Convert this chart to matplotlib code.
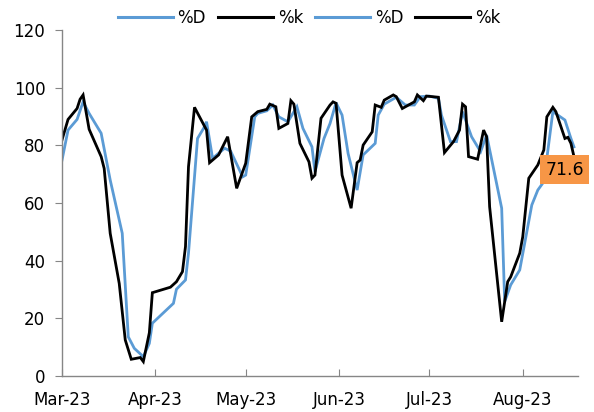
import matplotlib
matplotlib.use('Agg')
import matplotlib.pyplot as plt
import matplotlib.dates as mdates
from matplotlib.lines import Line2D
import pandas as pd

# %k (fast stochastic) - black line
k_dates = ["2023-03-01", "2023-03-03", "2023-03-06", "2023-03-07", "2023-03-08", "2023-03-10",
           "2023-03-14", "2023-03-15", "2023-03-17", "2023-03-20", "2023-03-22", "2023-03-24",
           "2023-03-27", "2023-03-28", "2023-03-30", "2023-03-31", "2023-04-06", "2023-04-08",
           "2023-04-10", "2023-04-11", "2023-04-12", "2023-04-14", "2023-04-18", "2023-04-19",
           "2023-04-22", "2023-04-25", "2023-04-28", "2023-05-01", "2023-05-03", "2023-05-05",
           "2023-05-08", "2023-05-09", "2023-05-11", "2023-05-12", "2023-05-15", "2023-05-16",
           "2023-05-17", "2023-05-19", "2023-05-22", "2023-05-23", "2023-05-24", "2023-05-26",
           "2023-05-29", "2023-05-30", "2023-05-31", "2023-06-02", "2023-06-05", "2023-06-07",
           "2023-06-08", "2023-06-09", "2023-06-12", "2023-06-13", "2023-06-15", "2023-06-16",
           "2023-06-19", "2023-06-20", "2023-06-22", "2023-06-26", "2023-06-27", "2023-06-29",
           "2023-06-30", "2023-07-04", "2023-07-06", "2023-07-09", "2023-07-11", "2023-07-12",
           "2023-07-13", "2023-07-14", "2023-07-17", "2023-07-19", "2023-07-20", "2023-07-21",
           "2023-07-25", "2023-07-27", "2023-07-28", "2023-07-31", "2023-08-01", "2023-08-03",
           "2023-08-06", "2023-08-08", "2023-08-09", "2023-08-11", "2023-08-12", "2023-08-15",
           "2023-08-16", "2023-08-17", "2023-08-19"]
k_values = [81.9, 89.0, 92.8, 96.0, 97.5, 85.6,
            76.1, 72.0, 49.5, 32.1, 12.5, 5.8,
            6.4, 5.0, 15.0, 28.9, 30.8, 32.7,
            36.2, 44.9, 72.6, 93.2, 85.3, 74.0,
            76.7, 83.0, 65.1, 73.8, 89.9, 91.7,
            92.5, 94.3, 93.4, 85.9, 87.6, 95.5,
            94.3, 80.7, 74.3, 68.6, 69.7, 89.4,
            94.0, 95.1, 94.6, 69.7, 58.2, 74.0,
            74.9, 80.1, 84.7, 94.0, 93.2, 95.7,
            97.5, 96.9, 92.8, 95.1, 97.5, 95.5,
            97.1, 96.7, 77.5, 81.3, 85.3, 94.3,
            93.4, 76.1, 75.2, 85.3, 83.0, 58.7,
            18.8, 32.7, 34.4, 42.6, 48.3, 68.6,
            73.2, 78.4, 89.9, 93.2, 91.7, 82.4,
            82.8, 80.7, 71.6]

# %D (slow stochastic) - blue line
d_dates = ["2023-03-01", "2023-03-03", "2023-03-06", "2023-03-08", "2023-03-10", "2023-03-14",
           "2023-03-17", "2023-03-21", "2023-03-23", "2023-03-25", "2023-03-28", "2023-03-30",
           "2023-03-31", "2023-04-07", "2023-04-08", "2023-04-11", "2023-04-12", "2023-04-15",
           "2023-04-17", "2023-04-18", "2023-04-20", "2023-04-24", "2023-04-26", "2023-04-30",
           "2023-05-01", "2023-05-04", "2023-05-05", "2023-05-08", "2023-05-10", "2023-05-12",
           "2023-05-15", "2023-05-18", "2023-05-20", "2023-05-23", "2023-05-24", "2023-05-27",
           "2023-05-29", "2023-05-31", "2023-06-02", "2023-06-04", "2023-06-07", "2023-06-09",
           "2023-06-13", "2023-06-14", "2023-06-16", "2023-06-20", "2023-06-23", "2023-06-26",
           "2023-06-28", "2023-07-01", "2023-07-04", "2023-07-05", "2023-07-08", "2023-07-10",
           "2023-07-12", "2023-07-15", "2023-07-18", "2023-07-20", "2023-07-25", "2023-07-26",
           "2023-07-28", "2023-07-31", "2023-08-04", "2023-08-06", "2023-08-08", "2023-08-11",
           "2023-08-15", "2023-08-17", "2023-08-18"]
d_values = [74.9, 85.3, 89.0, 95.1, 91.1, 84.2,
            68.0, 49.5, 13.6, 9.6, 6.7, 11.3,
            18.3, 25.2, 30.1, 33.3, 42.6, 82.4,
            85.9, 88.2, 75.5, 79.0, 78.0, 69.1,
            69.7, 89.9, 91.1, 92.0, 94.0, 89.9,
            88.2, 93.4, 85.9, 79.5, 70.9, 82.4,
            87.6, 94.8, 90.5, 77.2, 64.5, 76.7,
            80.7, 90.5, 94.3, 96.7, 94.0, 94.0,
            96.9, 97.1, 96.3, 90.5, 81.3, 81.3,
            91.7, 83.0, 77.8, 83.6, 58.2, 25.8,
            31.6, 36.8, 59.3, 64.5, 67.4, 91.7,
            88.8, 82.4, 79.5]

y_ticks = [0, 20, 40, 60, 80, 100, 120]
legend_labels = ["%D", "%k", "%D", "%k"]

blue = '#5B9BD5'
grey = '#868686'

k_x = pd.to_datetime(k_dates)
d_x = pd.to_datetime(d_dates)

fig = plt.figure(figsize=(5.94, 4.12), dpi=100)
ax = fig.add_axes([0.1044, 0.0874, 0.8686, 0.8396])

ax.plot(d_x, d_values, color=blue, lw=2.0, solid_joinstyle='miter')
ax.plot(k_x, k_values, color='black', lw=2.0, solid_joinstyle='miter')

ax.set_ylim(0, 120)
ax.set_yticks(y_ticks)
ax.set_xlim(pd.Timestamp("2023-03-01"), pd.Timestamp("2023-08-19 08:00"))
ax.xaxis.set_major_locator(mdates.MonthLocator())
ax.xaxis.set_major_formatter(mdates.DateFormatter('%b-%y'))

for side in ['top', 'right']:
    ax.spines[side].set_visible(False)
for side in ['left', 'bottom']:
    ax.spines[side].set_color(grey)
    ax.spines[side].set_linewidth(1.0)

ax.tick_params(axis='y', direction='out', length=5, color=grey, labelsize=12, pad=7)
ax.tick_params(axis='x', direction='in', length=5, color=grey, labelsize=12, pad=11)

# last-value label
ax.annotate(f"{k_values[-1]:.1f}", xy=(k_x[-1], k_values[-1]),
            xytext=(-9, 0), textcoords='offset points',
            ha='center', va='center', fontsize=12.5, color='black',
            bbox=dict(boxstyle='square,pad=0.3', fc='#F79646', ec='none'),
            annotation_clip=False)

handles = [Line2D([], [], color=blue, lw=2.2), Line2D([], [], color='black', lw=2.2),
           Line2D([], [], color=blue, lw=2.2), Line2D([], [], color='black', lw=2.2)]
fig.legend(handles, legend_labels, loc='upper center', bbox_to_anchor=(0.52, 1.015),
           ncol=4, frameon=False, fontsize=12, handlelength=3.3, columnspacing=0.7,
           handletextpad=0.3)

plt.savefig('out.png', dpi=100)
